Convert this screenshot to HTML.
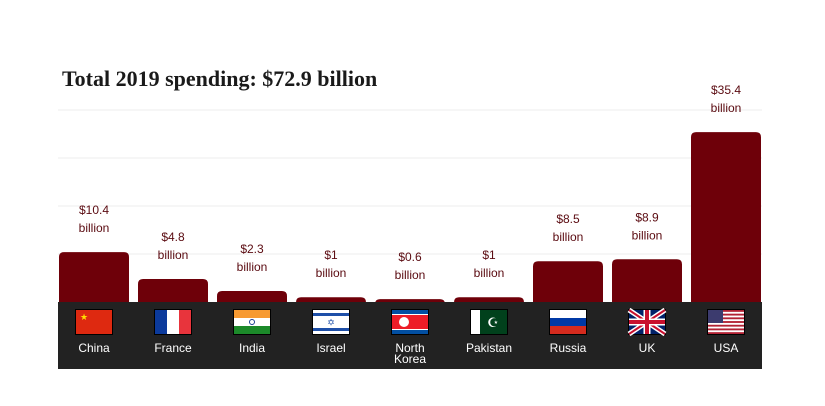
<!DOCTYPE html>
<html><head><meta charset="utf-8"><style>
body{margin:0;background:#fff;width:825px;height:401px;overflow:hidden;font-family:"Liberation Sans",sans-serif}
</style></head><body>
<svg width="825" height="401">
<text x="62" y="86" font-family="Liberation Serif,serif" font-weight="bold" font-size="22" fill="#1a1a1a">Total 2019 spending: $72.9 billion</text>
<g id="grid"></g><g id="bars"></g>
<rect x="58" y="302" width="704" height="67" fill="#222"/>
<g id="flags"></g>
</svg>
<script>
const categories=["China","France","India","Israel","North Korea","Pakistan","Russia","UK","USA"];
const values=[10.4,4.8,2.3,1,0.6,1,8.5,8.9,35.4];
const labels=["$10.4","$4.8","$2.3","$1","$0.6","$1","$8.5","$8.9","$35.4"];
const gridTicks=[10,20,30,40];
const NS="http://www.w3.org/2000/svg";
const y=v=>302-v*4.8, x=i=>59+i*79;
function el(t,a,p){const e=document.createElementNS(NS,t);for(const k in a)e.setAttribute(k,a[k]);p.appendChild(e);return e;}
const grid=document.getElementById('grid'),bars=document.getElementById('bars'),flags=document.getElementById('flags');
gridTicks.forEach(t=>{const l=el('line',{x1:58,x2:762,y1:y(t),y2:y(t),stroke:'#eee'},grid);

});
const flagSvg={
China:'<rect width="36" height="24" fill="#de2910"/><text x="4" y="10" font-size="9" fill="#ffde00">★</text>',
France:'<rect width="12" height="24" fill="#0b3a9c"/><rect x="12" width="12" height="24" fill="#fff"/><rect x="24" width="12" height="24" fill="#e8343c"/>',
India:'<rect width="36" height="8" fill="#f79a32"/><rect y="8" width="36" height="8" fill="#fff"/><rect y="16" width="36" height="8" fill="#1c8a2a"/><circle cx="18" cy="12" r="2.5" fill="none" stroke="#1c3f94"/>',
Israel:'<rect width="36" height="24" fill="#fff"/><rect y="3" width="36" height="3" fill="#1e4fa8"/><rect y="18" width="36" height="3" fill="#1e4fa8"/><text x="18" y="15.5" font-size="9" text-anchor="middle" fill="#1e4fa8">✡</text>',
"North Korea":'<rect width="36" height="24" fill="#024fa2"/><rect y="4" width="36" height="16" fill="#fff"/><rect y="5" width="36" height="14" fill="#ed1c27"/><circle cx="12" cy="12" r="5" fill="#fff"/>',
Pakistan:'<rect width="36" height="24" fill="#01411c"/><rect width="9" height="24" fill="#fff"/><text x="22" y="17" font-size="13" text-anchor="middle" fill="#fff">☪</text>',
Russia:'<rect width="36" height="8" fill="#fff"/><rect y="8" width="36" height="8" fill="#0039a6"/><rect y="16" width="36" height="8" fill="#d52b1e"/>',
UK:'<rect width="36" height="24" fill="#012169"/><path d="M0 0L36 24M36 0L0 24" stroke="#fff" stroke-width="5"/><path d="M0 0L36 24M36 0L0 24" stroke="#c8102e" stroke-width="2"/><path d="M18 0V24M0 12H36" stroke="#fff" stroke-width="7"/><path d="M18 0V24M0 12H36" stroke="#c8102e" stroke-width="4"/>',
USA:'<rect width="36" height="24" fill="#fff"/>'+[0,2,4,6,8,10,12].map(k=>`<rect y="${k*24/13}" width="36" height="${24/13}" fill="#b22234"/>`).join('')+'<rect width="15" height="13" fill="#3c3b6e"/>'
};
categories.forEach((c,i)=>{
 const bx=x(i),top=y(values[i]),cx=bx+35;
 const b=el('path',{d:`M${bx} 302V${top+5}Q${bx} ${top} ${bx+5} ${top}H${bx+65}Q${bx+70} ${top} ${bx+70} ${top+5}V302Z`,fill:'#6e0009'},bars);
 
 
 const t1=el('text',{x:cx,y:top-38,'text-anchor':'middle','font-size':12,fill:'#5a0a10'},bars);t1.textContent=labels[i];
 
 
 const t2=el('text',{x:cx,y:top-20,'text-anchor':'middle','font-size':12,fill:'#5a0a10'},bars);t2.textContent='billion';
 
 
 const g=el('g',{transform:`translate(${cx-18},310)`},flags);g.innerHTML='<rect x="-1" y="-1" width="38" height="26" fill="#000"/>'+flagSvg[c];
 
 
 const parts=c==='North Korea'?['North','Korea']:[c];
 parts.forEach((p,k)=>{const n=el('text',{x:cx,y:352+k*11,'text-anchor':'middle','font-size':12,fill:'#fff'},flags);n.textContent=p;
 
 });
});
</script>
</body></html>
